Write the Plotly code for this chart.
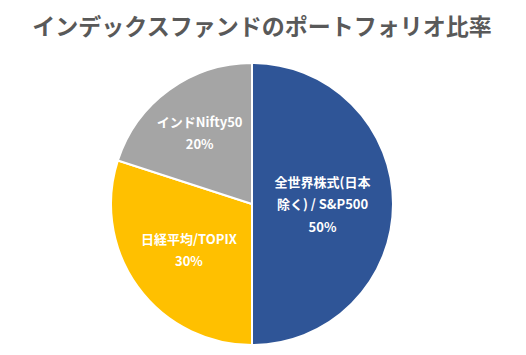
import plotly.graph_objects as go

labels = ["全世界株式(日本<br>除く) / S&P500", "日経平均/TOPIX", "インドNifty50"]
values = [50, 30, 20]
colors = ["#2F5597", "#FFC000", "#A5A5A5"]

W, H = 526, 355
OFF = 8  # page body margin offset
cx, cy, r = 252 - OFF, 204 - OFF, 141

fig = go.Figure(go.Pie(
    labels=labels,
    values=values,
    sort=False,
    direction="clockwise",
    rotation=0,
    domain=dict(x=[(cx - r) / W, (cx + r) / W], y=[(H - cy - r) / H, (H - cy + r) / H]),
    marker=dict(colors=colors, line=dict(color="white", width=2)),
    texttemplate="<span style='font-size:13px'>%{label}<br>%{percent:.0%}</span>",
    textposition="inside",
    insidetextorientation="horizontal",
    textfont=dict(family="Noto Sans CJK JP", size=17, color="white", weight="bold"),
    hoverinfo="label+percent",
    showlegend=False,
))

fig.update_layout(
    width=W, height=H,
    margin=dict(l=0, r=0, t=0, b=0),
    paper_bgcolor="white",
    title=dict(text="インデックスファンドのポートフォリオ比率", x=(262 - OFF) / W, xanchor="center",
               y=1 - (27 - OFF) / H, yanchor="middle",
               font=dict(family="Noto Sans CJK JP", size=23, color="#595959", weight="bold")),
)

fig.write_html("out.html")
